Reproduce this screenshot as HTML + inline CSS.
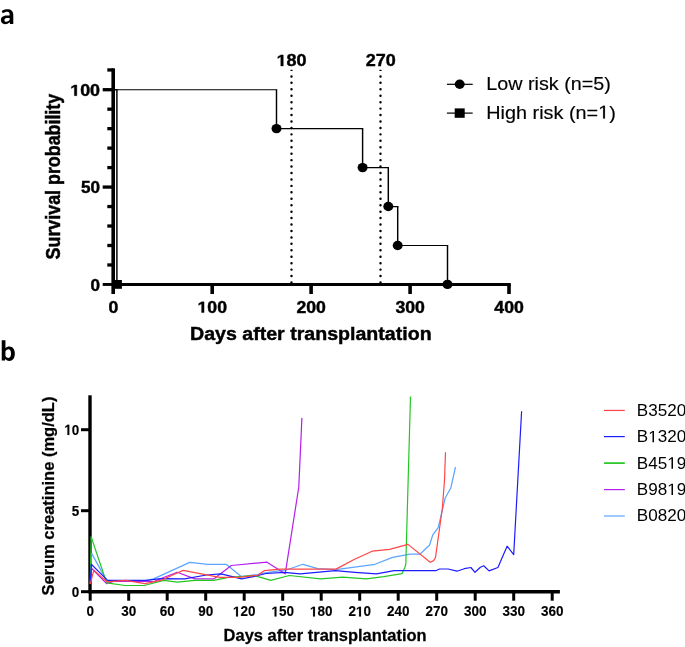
<!DOCTYPE html>
<html><head><meta charset="utf-8"><title>Figure</title>
<style>
html,body{margin:0;padding:0;background:#fff;}
body{width:685px;height:647px;overflow:hidden;}
svg{display:block;will-change:transform;}
text{font-family:"Liberation Sans",sans-serif;fill:#000;filter:grayscale(1);}
.b{font-weight:bold;}
.s{stroke:#000;stroke-width:0.4px;}
.t{stroke:#000;stroke-width:0.25px;}
.u{stroke:#000;stroke-width:0.15px;}
.v{stroke:#000;stroke-width:0.15px;}
</style></head><body>
<svg width="685" height="647" viewBox="0 0 685 647">
<rect width="685" height="647" fill="#fff"/>
<text class="b" x="0.6" y="24.2" font-size="25" style="fill:none;stroke:none">a</text>
<path d="M13.29,23.99 L13.29,14.84 C13.29,11.13 11.13,9.27 7.42,9.27 C5.26,9.27 3.09,9.89 1.73,11.00 L2.78,13.29 C4.02,12.36 5.87,11.75 7.30,11.75 C8.96,11.75 9.58,12.67 9.58,14.53 L9.58,15.46 L7.42,15.46 C3.09,15.46 0.93,17.00 0.93,20.09 C0.93,22.57 2.47,24.23 4.95,24.23 C6.80,24.23 8.35,23.49 9.77,22.26 L10.02,23.99 Z M9.58,17.93 L7.73,17.93 C5.56,17.93 4.45,18.55 4.45,19.91 C4.45,21.14 5.19,21.76 6.31,21.76 C7.54,21.76 8.66,21.14 9.58,20.09 Z" fill="#000" fill-rule="evenodd"/>
<text class="b" x="0.4" y="360.7" font-size="25" style="fill:none;stroke:none">b</text>
<path d="M1.73,10.20 L5.44,10.20 L5.44,18.05 C6.49,17.00 7.73,16.38 9.40,16.38 C12.67,16.38 14.84,19.17 14.84,23.49 C14.84,28.13 12.67,30.91 9.27,30.91 C7.73,30.91 6.37,30.29 5.26,29.06 L4.95,30.60 L1.73,30.60 Z M5.44,21.33 C6.18,20.09 7.30,19.29 8.41,19.29 C10.20,19.29 11.00,21.02 11.00,23.62 C11.00,26.46 10.20,27.94 8.41,27.94 C7.30,27.94 6.18,27.20 5.44,25.97 Z" transform="translate(0,330)" fill="#000" fill-rule="evenodd"/>
<g id="panelA">
<line x1="291.5" y1="76.4" x2="291.5" y2="283.0" stroke="#000" stroke-width="2.45" stroke-linecap="round" stroke-dasharray="0.01 6.43"/>
<rect x="290.4" y="69.7" width="2.2" height="1.3" rx="0.5" fill="#000"/>
<line x1="380.5" y1="76.4" x2="380.5" y2="283.0" stroke="#000" stroke-width="2.45" stroke-linecap="round" stroke-dasharray="0.01 6.43"/>
<rect x="379.4" y="69.7" width="2.2" height="1.3" rx="0.5" fill="#000"/>
<path fill="none" stroke="#000" stroke-width="1.15" d="M112.5,89.70H277.2M275.8,128.65H363.3M361.9,167.60H389.0M387.6,206.55H398.4M397.0,245.50H448.2"/>
<path fill="none" stroke="#000" stroke-width="1.45" d="M276.5,89.70V128.65M362.6,128.65V167.60M388.3,167.60V206.55M397.7,206.55V245.50M447.5,245.50V284.45"/>
<path fill="none" stroke="#000" stroke-width="1.15" d="M112.5,89.70H117.6"/>
<path fill="none" stroke="#000" stroke-width="1.45" d="M116.9,89.70V284.45"/>
<line x1="113.2" y1="68.3" x2="113.2" y2="285.9" stroke="#000" stroke-width="3.6"/>
<line x1="111.4" y1="284.45" x2="510.8" y2="284.45" stroke="#000" stroke-width="2.95"/>
<line x1="102.7" y1="284.45" x2="113.2" y2="284.45" stroke="#000" stroke-width="2.95"/>
<line x1="107.3" y1="264.97" x2="113.2" y2="264.97" stroke="#000" stroke-width="3.3"/>
<line x1="107.3" y1="245.50" x2="113.2" y2="245.50" stroke="#000" stroke-width="3.3"/>
<line x1="107.3" y1="226.02" x2="113.2" y2="226.02" stroke="#000" stroke-width="3.3"/>
<line x1="107.3" y1="206.55" x2="113.2" y2="206.55" stroke="#000" stroke-width="3.3"/>
<line x1="102.7" y1="187.07" x2="113.2" y2="187.07" stroke="#000" stroke-width="3.3"/>
<line x1="107.3" y1="167.60" x2="113.2" y2="167.60" stroke="#000" stroke-width="3.3"/>
<line x1="107.3" y1="148.12" x2="113.2" y2="148.12" stroke="#000" stroke-width="3.3"/>
<line x1="107.3" y1="128.65" x2="113.2" y2="128.65" stroke="#000" stroke-width="3.3"/>
<line x1="107.3" y1="109.17" x2="113.2" y2="109.17" stroke="#000" stroke-width="3.3"/>
<line x1="102.7" y1="89.70" x2="113.2" y2="89.70" stroke="#000" stroke-width="3.3"/>
<line x1="107.3" y1="69.95" x2="113.2" y2="69.95" stroke="#000" stroke-width="3.3"/>
<line x1="113.2" y1="284.4" x2="113.2" y2="294.0" stroke="#000" stroke-width="3.6"/>
<line x1="212.2" y1="284.4" x2="212.2" y2="294.0" stroke="#000" stroke-width="3.6"/>
<line x1="311.1" y1="284.4" x2="311.1" y2="294.0" stroke="#000" stroke-width="3.6"/>
<line x1="410.1" y1="284.4" x2="410.1" y2="294.0" stroke="#000" stroke-width="3.6"/>
<line x1="509.0" y1="284.4" x2="509.0" y2="294.0" stroke="#000" stroke-width="3.6"/>
<ellipse cx="276.5" cy="128.6" rx="5.0" ry="4.7" fill="#000"/>
<ellipse cx="362.6" cy="167.6" rx="5.0" ry="4.7" fill="#000"/>
<ellipse cx="388.3" cy="206.5" rx="5.0" ry="4.7" fill="#000"/>
<ellipse cx="397.7" cy="245.5" rx="5.0" ry="4.7" fill="#000"/>
<ellipse cx="447.5" cy="284.4" rx="5.0" ry="4.7" fill="#000"/>
<rect x="112.7" y="280.0" width="9.2" height="8.8" fill="#000"/>
<g transform="translate(108.38,312.60)"><text class="b s" font-size="15.6" textLength="9.85" lengthAdjust="spacingAndGlyphs">0</text></g>
<g transform="translate(197.48,312.60)"><text class="b s" font-size="15.6" textLength="29.54" lengthAdjust="spacingAndGlyphs"><tspan style="fill:none;stroke:none">1</tspan>00</text><polygon points="4.13,0.00 4.13,-8.91 1.21,-7.30 1.21,-8.99 4.26,-10.73 6.56,-10.73 6.56,0.00" fill="#000" stroke="#000" stroke-width="0.4" stroke-linejoin="miter"/></g>
<g transform="translate(296.43,312.60)"><text class="b s" font-size="15.6" textLength="29.54" lengthAdjust="spacingAndGlyphs">200</text></g>
<g transform="translate(395.38,312.60)"><text class="b s" font-size="15.6" textLength="29.54" lengthAdjust="spacingAndGlyphs">300</text></g>
<g transform="translate(494.33,312.60)"><text class="b s" font-size="15.6" textLength="29.54" lengthAdjust="spacingAndGlyphs">400</text></g>
<g transform="translate(90.56,291.15)"><text class="b s" font-size="15.6" textLength="9.54" lengthAdjust="spacingAndGlyphs">0</text></g>
<g transform="translate(81.01,193.47)"><text class="b s" font-size="15.6" textLength="19.09" lengthAdjust="spacingAndGlyphs">50</text></g>
<g transform="translate(70.17,95.70)"><text class="b s" font-size="15.6" textLength="29.93" lengthAdjust="spacingAndGlyphs"><tspan style="fill:none;stroke:none">1</tspan>00</text><polygon points="4.19,0.00 4.19,-8.91 1.23,-7.30 1.23,-8.99 4.32,-10.73 6.65,-10.73 6.65,0.00" fill="#000" stroke="#000" stroke-width="0.4" stroke-linejoin="miter"/></g>
<g transform="translate(276.60,65.90)"><text class="b s" font-size="16" textLength="30.00" lengthAdjust="spacingAndGlyphs"><tspan style="fill:none;stroke:none">1</tspan>80</text><polygon points="4.20,0.00 4.20,-9.14 1.23,-7.49 1.23,-9.22 4.33,-11.01 6.66,-11.01 6.66,0.00" fill="#000" stroke="#000" stroke-width="0.4" stroke-linejoin="miter"/></g>
<g transform="translate(365.70,65.90)"><text class="b s" font-size="16" textLength="30.00" lengthAdjust="spacingAndGlyphs">270</text></g>
<text class="b s" transform="translate(190.0,339.7) scale(1,1.09)" font-size="17.4" textLength="241.6" lengthAdjust="spacingAndGlyphs">Days after transplantation</text>
<text class="b s" transform="translate(60.0,259.4) rotate(-90) scale(1,1.2)" font-size="17.6" textLength="165.6" lengthAdjust="spacingAndGlyphs">Survival probability</text>
<line x1="446.9" y1="84.3" x2="472.7" y2="84.3" stroke="#000" stroke-width="1.2"/>
<ellipse cx="459.7" cy="84.3" rx="5.0" ry="4.7" fill="#000"/>
<line x1="446.9" y1="113.1" x2="472.7" y2="113.1" stroke="#000" stroke-width="1.2"/>
<rect x="454.7" y="108.4" width="10" height="9.4" fill="#000"/>
<g transform="translate(486.30,90.40) scale(1,1.08)"><text class="u" font-size="17.4" textLength="124.50" lengthAdjust="spacingAndGlyphs">Low risk (n=5)</text></g>
<g transform="translate(486.30,118.60) scale(1,1.08)"><text class="u" font-size="17.4" textLength="129.50" lengthAdjust="spacingAndGlyphs">High risk (n=<tspan style="fill:none;stroke:none">1</tspan>)</text><polygon points="116.85,0.00 116.85,-10.51 113.77,-8.58 113.77,-10.03 117.00,-11.97 118.61,-11.97 118.61,0.00" fill="#000" stroke="#000" stroke-width="0.15" stroke-linejoin="miter"/></g>
</g>
<g id="panelB">
<line x1="90.0" y1="395.3" x2="90.0" y2="593.4" stroke="#000" stroke-width="3.4"/>
<line x1="88.9" y1="591.7" x2="559.9" y2="591.7" stroke="#000" stroke-width="3.4"/>
<polyline fill="none" stroke="#5aa5ff" stroke-width="1.2" stroke-linejoin="round" points="90.3,584.0 91.6,553.4 106.9,581.1 143.4,581.1 153.6,578.9 189.7,562.4 208.0,564.3 226.2,564.3 241.5,576.7 257.6,574.5 263.8,573.1 287.1,569.7 302.9,564.3 317.8,568.7 336.0,569.7 375.0,564.3 392.6,557.4 410.1,554.2 419.9,554.2 429.6,545.0 432.8,534.8 438.2,527.7 445.2,498.0 450.8,488.0 455.5,467.0"/>
<polyline fill="none" stroke="#b51eee" stroke-width="1.2" stroke-linejoin="round" points="90.3,584.0 91.3,568.0 106.6,583.6 114.2,581.1 154.0,581.5 161.0,578.5 177.3,572.3 194.8,578.9 213.8,578.9 231.3,565.5 267.0,562.2 285.2,573.8 298.8,487.0 301.9,417.9"/>
<polyline fill="none" stroke="#24c624" stroke-width="1.2" stroke-linejoin="round" points="90.3,584.0 91.1,536.6 106.6,582.8 125.1,585.5 144.1,585.5 163.8,580.4 177.3,582.1 194.8,580.4 213.8,580.4 228.4,577.4 243.0,576.4 254.7,575.7 270.8,580.4 289.3,575.5 320.7,578.9 342.6,577.2 366.3,578.9 383.8,576.7 402.0,573.7 404.7,567.7 405.8,564.5 410.5,396.5"/>
<polyline fill="none" stroke="#1c1cff" stroke-width="1.2" stroke-linejoin="round" points="90.3,584.0 91.3,564.3 107.6,580.4 146.3,580.4 160.9,578.6 184.6,578.9 206.5,575.0 221.1,573.8 241.5,578.9 256.1,576.0 266.0,573.5 284.2,572.3 300.3,573.8 335.3,570.6 355.0,572.3 376.5,573.8 394.0,570.6 435.8,570.7 439.5,569.0 448.2,569.0 457.0,571.2 464.3,568.7 470.9,567.5 475.0,572.3 480.4,567.2 483.7,565.8 489.1,570.9 497.9,567.5 507.1,546.2 513.7,554.6 521.6,411.3"/>
<polyline fill="none" stroke="#ff4646" stroke-width="1.2" stroke-linejoin="round" points="90.3,584.0 93.8,570.1 106.9,581.8 125.9,580.4 144.9,583.7 160.9,580.4 175.5,573.8 183.1,570.4 219.6,577.4 238.6,577.4 257.6,575.3 264.5,570.6 279.8,569.1 336.0,569.1 354.6,559.2 372.1,551.2 389.6,549.4 408.0,544.4 430.2,562.3 433.6,560.6 435.5,557.5 442.3,508.5 444.5,480.2 445.5,452.2"/>
<line x1="81.0" y1="591.7" x2="90.0" y2="591.7" stroke="#000" stroke-width="3.0"/>
<line x1="81.0" y1="510.7" x2="90.0" y2="510.7" stroke="#000" stroke-width="3.0"/>
<line x1="81.0" y1="429.7" x2="90.0" y2="429.7" stroke="#000" stroke-width="3.0"/>
<line x1="90.2" y1="591.7" x2="90.2" y2="600.7" stroke="#000" stroke-width="3"/>
<line x1="128.7" y1="591.7" x2="128.7" y2="600.7" stroke="#000" stroke-width="3"/>
<line x1="167.2" y1="591.7" x2="167.2" y2="600.7" stroke="#000" stroke-width="3"/>
<line x1="205.7" y1="591.7" x2="205.7" y2="600.7" stroke="#000" stroke-width="3"/>
<line x1="244.2" y1="591.7" x2="244.2" y2="600.7" stroke="#000" stroke-width="3"/>
<line x1="282.7" y1="591.7" x2="282.7" y2="600.7" stroke="#000" stroke-width="3"/>
<line x1="321.2" y1="591.7" x2="321.2" y2="600.7" stroke="#000" stroke-width="3"/>
<line x1="359.7" y1="591.7" x2="359.7" y2="600.7" stroke="#000" stroke-width="3"/>
<line x1="398.2" y1="591.7" x2="398.2" y2="600.7" stroke="#000" stroke-width="3"/>
<line x1="436.7" y1="591.7" x2="436.7" y2="600.7" stroke="#000" stroke-width="3"/>
<line x1="475.2" y1="591.7" x2="475.2" y2="600.7" stroke="#000" stroke-width="3"/>
<line x1="513.7" y1="591.7" x2="513.7" y2="600.7" stroke="#000" stroke-width="3"/>
<line x1="552.2" y1="591.7" x2="552.2" y2="600.7" stroke="#000" stroke-width="3"/>
<g transform="translate(86.45,616.40) scale(1,1.025)"><text class="b v" font-size="13.7" textLength="7.50" lengthAdjust="spacingAndGlyphs">0</text></g>
<g transform="translate(121.19,616.40) scale(1,1.025)"><text class="b v" font-size="13.7" textLength="15.01" lengthAdjust="spacingAndGlyphs">30</text></g>
<g transform="translate(159.69,616.40) scale(1,1.025)"><text class="b v" font-size="13.7" textLength="15.01" lengthAdjust="spacingAndGlyphs">60</text></g>
<g transform="translate(198.19,616.40) scale(1,1.025)"><text class="b v" font-size="13.7" textLength="15.01" lengthAdjust="spacingAndGlyphs">90</text></g>
<g transform="translate(232.94,616.40) scale(1,1.025)"><text class="b v" font-size="13.7" textLength="22.51" lengthAdjust="spacingAndGlyphs"><tspan style="fill:none;stroke:none">1</tspan>20</text><polygon points="3.15,0.00 3.15,-7.83 0.92,-6.42 0.92,-7.89 3.25,-9.43 5.00,-9.43 5.00,0.00" fill="#000" stroke="#000" stroke-width="0.15" stroke-linejoin="miter"/></g>
<g transform="translate(271.44,616.40) scale(1,1.025)"><text class="b v" font-size="13.7" textLength="22.51" lengthAdjust="spacingAndGlyphs"><tspan style="fill:none;stroke:none">1</tspan>50</text><polygon points="3.15,0.00 3.15,-7.83 0.92,-6.42 0.92,-7.89 3.25,-9.43 5.00,-9.43 5.00,0.00" fill="#000" stroke="#000" stroke-width="0.15" stroke-linejoin="miter"/></g>
<g transform="translate(309.94,616.40) scale(1,1.025)"><text class="b v" font-size="13.7" textLength="22.51" lengthAdjust="spacingAndGlyphs"><tspan style="fill:none;stroke:none">1</tspan>80</text><polygon points="3.15,0.00 3.15,-7.83 0.92,-6.42 0.92,-7.89 3.25,-9.43 5.00,-9.43 5.00,0.00" fill="#000" stroke="#000" stroke-width="0.15" stroke-linejoin="miter"/></g>
<g transform="translate(348.44,616.40) scale(1,1.025)"><text class="b v" font-size="13.7" textLength="22.51" lengthAdjust="spacingAndGlyphs">2<tspan style="fill:none;stroke:none">1</tspan>0</text><polygon points="10.65,0.00 10.65,-7.83 8.43,-6.42 8.43,-7.89 10.75,-9.43 12.51,-9.43 12.51,0.00" fill="#000" stroke="#000" stroke-width="0.15" stroke-linejoin="miter"/></g>
<g transform="translate(386.93,616.40) scale(1,1.025)"><text class="b v" font-size="13.7" textLength="22.51" lengthAdjust="spacingAndGlyphs">240</text></g>
<g transform="translate(425.43,616.40) scale(1,1.025)"><text class="b v" font-size="13.7" textLength="22.51" lengthAdjust="spacingAndGlyphs">270</text></g>
<g transform="translate(463.93,616.40) scale(1,1.025)"><text class="b v" font-size="13.7" textLength="22.51" lengthAdjust="spacingAndGlyphs">300</text></g>
<g transform="translate(502.43,616.40) scale(1,1.025)"><text class="b v" font-size="13.7" textLength="22.51" lengthAdjust="spacingAndGlyphs">330</text></g>
<g transform="translate(540.93,616.40) scale(1,1.025)"><text class="b v" font-size="13.7" textLength="22.51" lengthAdjust="spacingAndGlyphs">360</text></g>
<g transform="translate(71.80,596.90) scale(1,1.08)"><text class="b v" font-size="13.7" textLength="7.50" lengthAdjust="spacingAndGlyphs">0</text></g>
<g transform="translate(71.80,515.90) scale(1,1.08)"><text class="b v" font-size="13.7" textLength="7.50" lengthAdjust="spacingAndGlyphs">5</text></g>
<g transform="translate(64.29,434.90) scale(1,1.08)"><text class="b v" font-size="13.7" textLength="15.01" lengthAdjust="spacingAndGlyphs"><tspan style="fill:none;stroke:none">1</tspan>0</text><polygon points="3.15,0.00 3.15,-7.83 0.92,-6.42 0.92,-7.89 3.25,-9.43 5.00,-9.43 5.00,0.00" fill="#000" stroke="#000" stroke-width="0.15" stroke-linejoin="miter"/></g>
<text class="b t" transform="translate(223.6,640.6) scale(1,1.05)" font-size="16.2" textLength="203" lengthAdjust="spacingAndGlyphs">Days after transplantation</text>
<text class="b t" transform="translate(53.9,595.6) rotate(-90)" font-size="16.4" textLength="199" lengthAdjust="spacingAndGlyphs">Serum creatinine (mg/dL)</text>
<line x1="604.0" y1="410.45" x2="624.8" y2="410.45" stroke="#ff4646" stroke-width="1.2"/>
<g transform="translate(636.80,416.00)"><text font-size="16.6" textLength="49.40" lengthAdjust="spacingAndGlyphs">B3520</text></g>
<line x1="604.0" y1="436.60" x2="624.8" y2="436.60" stroke="#1c1cff" stroke-width="1.2"/>
<g transform="translate(636.80,442.35)"><text font-size="16.6" textLength="49.40" lengthAdjust="spacingAndGlyphs">B<tspan style="fill:none;stroke:none">1</tspan>320</text><polygon points="15.69,0.00 15.69,-10.03 13.04,-8.19 13.04,-9.56 15.82,-11.42 17.20,-11.42 17.20,0.00" fill="#000"/></g>
<line x1="604.0" y1="463.10" x2="624.8" y2="463.10" stroke="#24c624" stroke-width="1.7"/>
<g transform="translate(636.80,468.70)"><text font-size="16.6" textLength="49.40" lengthAdjust="spacingAndGlyphs">B45<tspan style="fill:none;stroke:none">1</tspan>9</text><polygon points="34.69,0.00 34.69,-10.03 32.04,-8.19 32.04,-9.56 34.82,-11.42 36.20,-11.42 36.20,0.00" fill="#000"/></g>
<line x1="604.0" y1="489.60" x2="624.8" y2="489.60" stroke="#b51eee" stroke-width="1.2"/>
<g transform="translate(636.80,495.05)"><text font-size="16.6" textLength="49.40" lengthAdjust="spacingAndGlyphs">B98<tspan style="fill:none;stroke:none">1</tspan>9</text><polygon points="34.69,0.00 34.69,-10.03 32.04,-8.19 32.04,-9.56 34.82,-11.42 36.20,-11.42 36.20,0.00" fill="#000"/></g>
<line x1="604.0" y1="516.00" x2="624.8" y2="516.00" stroke="#5aa5ff" stroke-width="1.2"/>
<g transform="translate(636.80,521.40)"><text font-size="16.6" textLength="49.40" lengthAdjust="spacingAndGlyphs">B0820</text></g>
</g>
</svg>
</body></html>
